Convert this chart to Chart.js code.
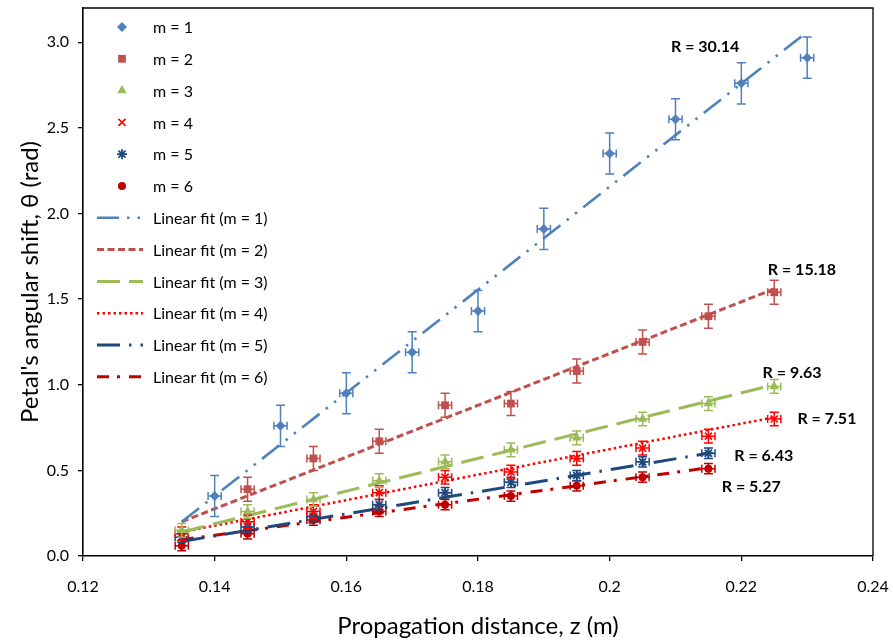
<!DOCTYPE html>
<html><head><meta charset="utf-8">
<script src="https://cdn.jsdelivr.net/npm/chart.js@4.4.0/dist/chart.umd.min.js"></script>
<style>html,body{margin:0;padding:0;background:#fff;}canvas{display:block;}</style>
</head><body>
<canvas id="c" width="893" height="644"></canvas>
<script>
// ---------- data ----------
const zM1  = [0.14, 0.15, 0.16, 0.17, 0.18, 0.19, 0.20, 0.21, 0.22, 0.23];
const zM2  = [0.145, 0.155, 0.165, 0.175, 0.185, 0.195, 0.205, 0.215, 0.225];
const zM34 = [0.135, 0.145, 0.155, 0.165, 0.175, 0.185, 0.195, 0.205, 0.215, 0.225];
const zM56 = [0.135, 0.145, 0.155, 0.165, 0.175, 0.185, 0.195, 0.205, 0.215];

const thetaM1 = [0.35, 0.76, 0.95, 1.19, 1.43, 1.91, 2.35, 2.55, 2.76, 2.91];
const thetaM2 = [0.39, 0.57, 0.67, 0.88, 0.89, 1.08, 1.25, 1.40, 1.54];
const thetaM3 = [0.15, 0.26, 0.33, 0.44, 0.55, 0.62, 0.69, 0.80, 0.89, 0.99];
const thetaM4 = [0.13, 0.20, 0.26, 0.37, 0.46, 0.49, 0.57, 0.63, 0.70, 0.80];
const thetaM5 = [0.11, 0.17, 0.23, 0.30, 0.37, 0.43, 0.47, 0.55, 0.60];
const thetaM6 = [0.06, 0.13, 0.21, 0.26, 0.30, 0.35, 0.41, 0.46, 0.51];

const errThetaM1 = [0.12, 0.12, 0.12, 0.12, 0.12, 0.12, 0.12, 0.12, 0.12, 0.12];
const errThetaM2 = [0.07, 0.07, 0.07, 0.07, 0.07, 0.07, 0.07, 0.07, 0.07];
const errThetaM3 = [0.04, 0.04, 0.04, 0.04, 0.04, 0.04, 0.04, 0.04, 0.04, 0.04];
const errThetaM4 = [0.04, 0.04, 0.04, 0.04, 0.04, 0.04, 0.04, 0.04, 0.04, 0.04];
const errThetaM5 = [0.03, 0.03, 0.03, 0.03, 0.03, 0.03, 0.03, 0.03, 0.03];
const errThetaM6 = [0.03, 0.03, 0.03, 0.03, 0.03, 0.03, 0.03, 0.03, 0.03];
const errZM1  = [0.001, 0.001, 0.001, 0.001, 0.001, 0.001, 0.001, 0.001, 0.001, 0.001];
const errZM2  = [0.001, 0.001, 0.001, 0.001, 0.001, 0.001, 0.001, 0.001, 0.001];
const errZM34 = [0.001, 0.001, 0.001, 0.001, 0.001, 0.001, 0.001, 0.001, 0.001, 0.001];
const errZM56 = [0.001, 0.001, 0.001, 0.001, 0.001, 0.001, 0.001, 0.001, 0.001];

// linear-fit end points (z, theta)
const fitZM1 = [0.135, 0.23];   const fitThetaM1 = [0.20, 3.06];
const fitZM2 = [0.135, 0.225];  const fitThetaM2 = [0.20, 1.56];
const fitZM3 = [0.135, 0.225];  const fitThetaM3 = [0.14, 1.00];
const fitZM4 = [0.135, 0.225];  const fitThetaM4 = [0.14, 0.81];
const fitZM5 = [0.135, 0.215];  const fitThetaM5 = [0.085, 0.60];
const fitZM6 = [0.135, 0.215];  const fitThetaM6 = [0.095, 0.515];

const seriesLabels = ['m = 1', 'm = 2', 'm = 3', 'm = 4', 'm = 5', 'm = 6'];
const fitLabels = ['Linear fit (m = 1)', 'Linear fit (m = 2)', 'Linear fit (m = 3)',
                   'Linear fit (m = 4)', 'Linear fit (m = 5)', 'Linear fit (m = 6)'];
const slopeLabels = ['R = 30.14', 'R = 15.18', 'R = 9.63', 'R = 7.51', 'R = 6.43', 'R = 5.27'];

const xTicks = [0.12, 0.14, 0.16, 0.18, 0.20, 0.22, 0.24];
const xTickLabels = ['0.12', '0.14', '0.16', '0.18', '0.2', '0.22', '0.24'];
const yTicks = [0, 0.5, 1.0, 1.5, 2.0, 2.5, 3.0];
const yTickLabels = ['0.0', '0.5', '1.0', '1.5', '2.0', '2.5', '3.0'];
const xTitle = 'Propagation distance, z (m)';
const yTitle = "Petal's angular shift, \u03b8 (rad)";

// ---------- styling / placement (not data) ----------
const colors = ['#4F81BD', '#C0504D', '#9BBB59', '#FF0000', '#1F497D', '#C00000'];
const markerStyles = [
  {pointStyle: 'rectRot', radius: 5, borderWidth: 0},
  {pointStyle: 'rect', radius: 5.5, borderWidth: 0},
  {pointStyle: 'triangle', radius: 5.5, borderWidth: 0},
  {pointStyle: 'crossRot', radius: 5, borderWidth: 1.6},
  {pointStyle: 'star', radius: 5, borderWidth: 1.8},
  {pointStyle: 'circle', radius: 4, borderWidth: 0}
];
const fitDashes = [[22, 8, 2.5, 8, 2.5, 8], [7, 3.5], [23, 9], [2.5, 3], [23, 9, 2.5, 9], [12, 8, 3, 9]];
const fitWidths = [2.6, 3, 3, 2.5, 3, 3];
// slope label anchors in data units (centre of text)
const slopeLabelAnchors = [[0.2145, 2.975], [0.2292, 1.672], [0.2277, 1.071], [0.2330, 0.803], [0.2234, 0.582], [0.2215, 0.406]];

const pts = (xs, ys) => xs.map((x, i) => ({x: x, y: ys[i]}));

const scatterSets = [
  [zM1, thetaM1, errZM1, errThetaM1],
  [zM2, thetaM2, errZM2, errThetaM2],
  [zM34, thetaM3, errZM34, errThetaM3],
  [zM34, thetaM4, errZM34, errThetaM4],
  [zM56, thetaM5, errZM56, errThetaM5],
  [zM56, thetaM6, errZM56, errThetaM6]
];
const fitSets = [[fitZM1, fitThetaM1], [fitZM2, fitThetaM2], [fitZM3, fitThetaM3],
                 [fitZM4, fitThetaM4], [fitZM5, fitThetaM5], [fitZM6, fitThetaM6]];

const datasets = [];
scatterSets.forEach((s, i) => {
  datasets.push({
    label: seriesLabels[i], data: pts(s[0], s[1]), errX: s[2], errY: s[3], isPoints: true,
    showLine: false, order: 0,
    pointStyle: markerStyles[i].pointStyle, pointRadius: markerStyles[i].radius,
    pointBorderWidth: markerStyles[i].borderWidth,
    backgroundColor: colors[i], borderColor: colors[i], pointHoverRadius: markerStyles[i].radius
  });
});
fitSets.forEach((s, i) => {
  datasets.push({
    label: fitLabels[i], data: pts(s[0], s[1]), isFit: true, showLine: true, order: 1,
    pointRadius: 0, borderColor: colors[i], borderWidth: fitWidths[i], borderDash: fitDashes[i],
    borderCapStyle: 'butt', fill: false
  });
});

const FONT = 'Lato, "Open Sans", sans-serif';

const errorBars = {
  id: 'errorBars',
  beforeDatasetDraw(chart, args) {
    const ds = chart.data.datasets[args.index];
    if (!ds.isPoints) return;
    const xs = chart.scales.x, ys = chart.scales.y, ctx = chart.ctx;
    ctx.save();
    ctx.strokeStyle = ds.borderColor; ctx.lineWidth = 1.5;
    ds.data.forEach((p, i) => {
      const px = xs.getPixelForValue(p.x), py = ys.getPixelForValue(p.y);
      const y1 = ys.getPixelForValue(p.y + ds.errY[i]), y2 = ys.getPixelForValue(p.y - ds.errY[i]);
      const x1 = xs.getPixelForValue(p.x - ds.errX[i]), x2 = xs.getPixelForValue(p.x + ds.errX[i]);
      ctx.beginPath();
      ctx.moveTo(px, y1); ctx.lineTo(px, y2);
      ctx.moveTo(px - 4.5, y1); ctx.lineTo(px + 4.5, y1);
      ctx.moveTo(px - 4.5, y2); ctx.lineTo(px + 4.5, y2);
      ctx.moveTo(x1, py); ctx.lineTo(x2, py);
      ctx.moveTo(x1, py - 4); ctx.lineTo(x1, py + 4);
      ctx.moveTo(x2, py - 4); ctx.lineTo(x2, py + 4);
      ctx.stroke();
    });
    ctx.restore();
  }
};

function drawMarker(ctx, style, color, x, y) {
  ctx.save();
  ctx.fillStyle = color; ctx.strokeStyle = color; ctx.lineWidth = style.borderWidth || 1;
  if (Chart.helpers && Chart.helpers.drawPoint) {
    Chart.helpers.drawPoint(ctx, {pointStyle: style.pointStyle, radius: style.radius, rotation: 0, borderWidth: style.borderWidth}, x, y);
  } else {
    ctx.beginPath(); ctx.arc(x, y, style.radius, 0, Math.PI * 2); ctx.fill();
  }
  ctx.restore();
}

const overlay = {
  id: 'overlay',
  afterDraw(chart) {
    const ctx = chart.ctx, a = chart.chartArea;
    ctx.save();
    ctx.strokeStyle = '#000'; ctx.lineWidth = 1.3;
    ctx.beginPath();
    ctx.moveTo(a.left, a.top); ctx.lineTo(a.right, a.top); ctx.lineTo(a.right, a.bottom);
    ctx.stroke();
    ctx.restore();
    const rowY0 = 27, rowGap = 31.8, markX = 122, lineX1 = 97, lineX2 = 143, textX = 153;
    ctx.save();
    ctx.font = '16px ' + FONT; ctx.fillStyle = '#000'; ctx.textBaseline = 'middle'; ctx.textAlign = 'left';
    chart.data.datasets.forEach((ds, i) => {
      const y = rowY0 + rowGap * i;
      if (ds.isPoints) {
        drawMarker(ctx, markerStyles[i], colors[i], markX, y);
      } else {
        const k = i - 6;
        ctx.save();
        ctx.strokeStyle = colors[k]; ctx.lineWidth = fitWidths[k]; ctx.setLineDash(fitDashes[k]);
        ctx.beginPath(); ctx.moveTo(lineX1, y); ctx.lineTo(lineX2, y); ctx.stroke();
        ctx.restore();
      }
      ctx.fillText(ds.label, textX, y + 1);
    });
    ctx.restore();
    const xs = chart.scales.x, ys = chart.scales.y;
    ctx.save();
    ctx.font = 'bold 16px ' + FONT; ctx.fillStyle = '#000'; ctx.textAlign = 'center'; ctx.textBaseline = 'middle';
    slopeLabels.forEach((t, i) => {
      ctx.fillText(t, xs.getPixelForValue(slopeLabelAnchors[i][0]), ys.getPixelForValue(slopeLabelAnchors[i][1]));
    });
    ctx.restore();
  }
};

new Chart(document.getElementById('c'), {
  type: 'scatter',
  data: {datasets: datasets},
  options: {
    responsive: false, animation: false, devicePixelRatio: 1,
    layout: {padding: {left: 0, top: 8, right: 20, bottom: 0}},
    plugins: {legend: {display: false}, tooltip: {enabled: false}},
    scales: {
      x: {
        type: 'linear', min: 0.12, max: 0.24,
        afterBuildTicks: s => { s.ticks = xTicks.map(v => ({value: v})); },
        afterFit: s => { s.height = 88; s.paddingLeft = 0; s.paddingRight = 0; },
        ticks: {callback: (v, i) => xTickLabels[i], font: {family: FONT, size: 16}, color: '#000', padding: 16, maxRotation: 0, autoSkip: false},
        grid: {drawOnChartArea: false, drawTicks: true, tickLength: 5, color: '#000', lineWidth: 1.3},
        border: {display: true, color: '#000', width: 1.6},
        title: {display: true, text: xTitle, font: {family: FONT, size: 24}, color: '#000', padding: {top: 0, bottom: 3}}
      },
      y: {
        type: 'linear', min: 0, max: 3.2,
        afterBuildTicks: s => { s.ticks = yTicks.map(v => ({value: v})); },
        afterFit: s => { s.width = 83; s.paddingTop = 0; s.paddingBottom = 0; },
        ticks: {callback: (v, i) => yTickLabels[i], font: {family: FONT, size: 16}, color: '#000', padding: 9, autoSkip: false},
        grid: {drawOnChartArea: false, drawTicks: true, tickLength: 5, color: '#000', lineWidth: 1.3},
        border: {display: true, color: '#000', width: 1.6},
        title: {display: true, text: yTitle, font: {family: FONT, size: 24}, color: '#000', padding: {top: 16, bottom: 0}}
      }
    }
  },
  plugins: [errorBars, overlay]
});
</script>
</body></html>
